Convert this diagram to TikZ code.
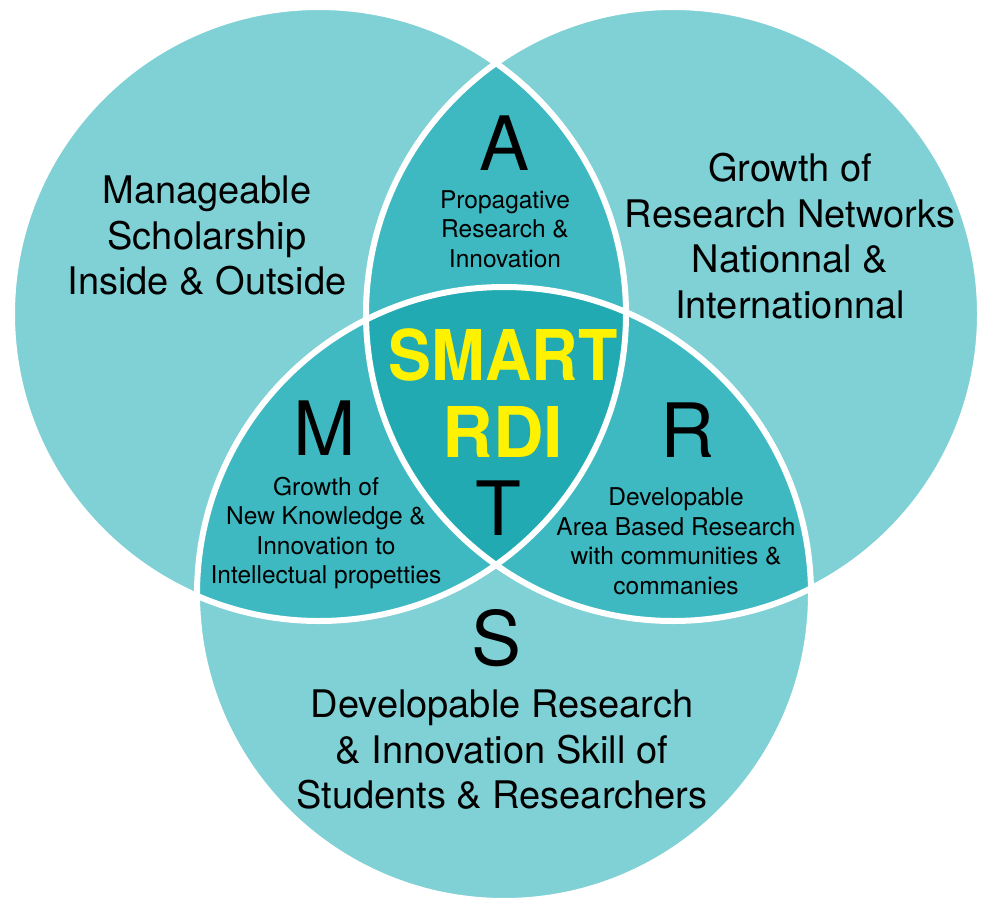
\documentclass[tikz,border=0pt]{standalone}
\usepackage{fontspec}
\setmainfont{TeX Gyre Heros}
\definecolor{tealpale}{RGB}{128,209,213}
\definecolor{tealmid}{RGB}{63,185,193}
\definecolor{tealdeep}{RGB}{33,170,178}
\definecolor{smartyellow}{RGB}{255,242,0}

\begin{document}
\begin{tikzpicture}[x=1pt,y=-1pt,
        bigtext/.style={align=center,inner sep=0pt,font=\fontsize{38}{45.5}\selectfont},
        smalltext/.style={align=center,inner sep=0pt,font=\fontsize{24.5}{29.5}\selectfont},
        letter/.style={anchor=base,inner sep=0pt,font=\fontsize{75}{75}\selectfont},
        core/.style={align=center,inner sep=0pt,text=smartyellow,font=\bfseries\fontsize{70}{77}\selectfont},
        ring/.style={draw=white,line width=6pt}
    ]
        \useasboundingbox (0,0) rectangle (982,901);

        % Circle centres
        \coordinate (cm) at (319,314);
        \coordinate (cr) at (673,314);
        \coordinate (cs) at (504,594);

        % Single regions
        \fill[tealpale] (cm) circle[radius=307] (cr) circle[radius=307] (cs) circle[radius=307];

        % Pairwise overlaps
        \begin{scope}
            \clip (cm) circle[radius=307];
            \fill[tealmid] (cr) circle[radius=307];
            \fill[tealmid] (cs) circle[radius=307];
        \end{scope}
        \begin{scope}
            \clip (cr) circle[radius=307];
            \fill[tealmid] (cs) circle[radius=307];
        \end{scope}

        % Centre
        \begin{scope}
            \clip (cm) circle[radius=307];
            \clip (cr) circle[radius=307];
            \fill[tealdeep] (cs) circle[radius=307];
        \end{scope}

        % White outlines
        \draw[ring] (cm) circle[radius=307];
        \draw[ring] (cr) circle[radius=307];
        \draw[ring] (cs) circle[radius=307];

        % Outer texts
        \node[bigtext] (manage) at (207,236) {Manageable\\Scholarship\\Inside \& Outside};
        \node[bigtext] (network) at (790,236) {Growth of\\Research Networks\\Nationnal \&\\Internationnal};
        \node[bigtext] (skill) at (502,750) {Developable Research\\\& Innovation Skill of\\Students \& Researchers};

        % Letters
        \node[letter] (A) at (505,171) {A};
        \node[letter] (M) at (325,455) {M};
        \node[letter] (R) at (688,457) {R};
        \node[letter] (S) at (497,665) {S};
        \node[letter] (T) at (498,535) {T};

        % Lens texts
        \node[smalltext] (propa) at (505,229) {Propagative\\Research \&\\Innovation};
        \node[smalltext] (know) at (326,533) {Growth of\\New Knowledge \&\\Innovation to\\Intellectual propetties};
        \node[smalltext] (area) at (676,541) {Developable\\Area Based Research\\with communities \&\\commanies};

        % Core
        \node[core] (smart) at (503,393) {\scalebox{0.92}[1]{SMART}\\RDI};
\end{tikzpicture}
\end{document}
